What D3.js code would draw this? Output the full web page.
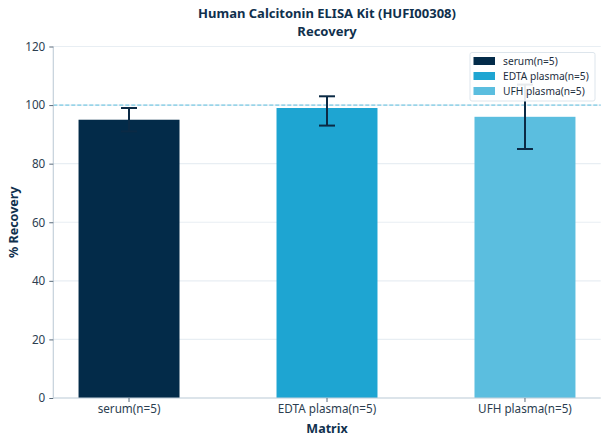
<!DOCTYPE html>
<html>
<head>
<meta charset="utf-8">
<script src="https://cdn.jsdelivr.net/npm/d3@7"></script>
<style>
  body { margin: 0; background: #fff; }
  text { font-family: "Noto Sans", "Open Sans", sans-serif; }
</style>
</head>
<body>
<svg id="chart"></svg>
<script>
// data
const categories = ["serum(n=5)", "EDTA plasma(n=5)", "UFH plasma(n=5)"];
const recovery = [95, 99, 96];
const errLow = [91, 93, 85];
const errHigh = [99, 103, 107];
const colors = ["#032b49", "#1ea5d2", "#5bbedf"];
const yTicks = [0, 20, 40, 60, 80, 100, 120];

const W = 608, H = 444;
const margin = { top: 46.5, right: 7.3, bottom: 46, left: 53.3 };
const width = W - margin.left - margin.right;
const height = H - margin.top - margin.bottom;

const svg = d3.select("#chart").attr("width", W).attr("height", H);
const g = svg.append("g")
  .attr("transform", "translate(" + margin.left + "," + margin.top + ")");

const x = d3.scaleBand().domain(categories).range([0, width])
  .paddingInner(0.49).paddingOuter(0.1275);
const y = d3.scaleLinear().domain([0, 120]).range([height, 0]);

// grid
g.selectAll(".grid").data(yTicks).enter().append("line")
  .attr("x1", 0).attr("x2", width)
  .attr("y1", d => y(d)).attr("y2", d => y(d))
  .attr("stroke", "#e8eef3").attr("stroke-width", 1.2);

// bars
g.selectAll(".bar").data(categories).enter().append("rect")
  .attr("x", d => x(d))
  .attr("y", (d, i) => y(recovery[i]))
  .attr("width", x.bandwidth())
  .attr("height", (d, i) => height - y(recovery[i]))
  .attr("fill", (d, i) => colors[i]);

// 100% reference line
g.append("line")
  .attr("x1", 0).attr("x2", width)
  .attr("y1", y(100)).attr("y2", y(100))
  .attr("stroke", "#5bbedf").attr("stroke-width", 1)
  .attr("stroke-dasharray", "4,2");

// error bars
const cap = 8;
const eb = g.selectAll(".err").data(categories).enter().append("g")
  .attr("stroke", "#0b2a45").attr("stroke-width", 2);
eb.append("line")
  .attr("x1", d => x(d) + x.bandwidth() / 2).attr("x2", d => x(d) + x.bandwidth() / 2)
  .attr("y1", (d, i) => y(errLow[i])).attr("y2", (d, i) => y(errHigh[i]));
eb.append("line")
  .attr("x1", d => x(d) + x.bandwidth() / 2 - cap).attr("x2", d => x(d) + x.bandwidth() / 2 + cap)
  .attr("y1", (d, i) => y(errLow[i])).attr("y2", (d, i) => y(errLow[i]));
eb.append("line")
  .attr("x1", d => x(d) + x.bandwidth() / 2 - cap).attr("x2", d => x(d) + x.bandwidth() / 2 + cap)
  .attr("y1", (d, i) => y(errHigh[i])).attr("y2", (d, i) => y(errHigh[i]));

// axes
const yAxis = g.append("g")
  .call(d3.axisLeft(y).tickValues(yTicks).tickSize(4).tickPadding(4));
const xAxis = g.append("g")
  .attr("transform", "translate(0," + height + ")")
  .call(d3.axisBottom(x).tickSize(4).tickPadding(3));
[yAxis, xAxis].forEach(a => {
  a.select(".domain").attr("stroke", "#c5d1db").attr("stroke-width", 1.2);
  a.selectAll(".tick line").attr("stroke", "#5a6b7b");
  a.selectAll(".tick text").attr("fill", "#2c3e50").attr("font-size", 11.7)
    .style("font-family", "'Noto Sans', sans-serif");
});
yAxis.select(".domain").attr("d", "M0," + height + "V0");
xAxis.select(".domain").attr("d", "M0,0H" + width);

// titles
const tx = margin.left + width / 2;
svg.append("text").attr("x", tx).attr("y", 18)
  .attr("text-anchor", "middle").attr("font-size", 13).attr("font-weight", "bold")
  .attr("fill", "#10304d").text("Human Calcitonin ELISA Kit (HUFI00308)");
svg.append("text").attr("x", tx).attr("y", 35.5)
  .attr("text-anchor", "middle").attr("font-size", 13).attr("font-weight", "bold")
  .attr("fill", "#10304d").text("Recovery");
svg.append("text").attr("x", tx).attr("y", 433)
  .attr("text-anchor", "middle").attr("font-size", 12.5).attr("font-weight", "bold")
  .attr("fill", "#10304d").text("Matrix");
svg.append("text")
  .attr("transform", "translate(18," + (margin.top + height / 2) + ") rotate(-90)")
  .attr("text-anchor", "middle").attr("font-size", 12.5).attr("font-weight", "bold")
  .attr("fill", "#10304d").text("% Recovery");

// legend
const lg = svg.append("g").attr("transform", "translate(470,52.5)");
lg.append("rect").attr("width", 125).attr("height", 48.5).attr("rx", 2)
  .attr("fill", "#fff").attr("fill-opacity", 0.9)
  .attr("stroke", "#dde5ec").attr("stroke-width", 1);
categories.forEach((c, i) => {
  lg.append("rect").attr("x", 3.5).attr("y", 4.5 + i * 15)
    .attr("width", 21.5).attr("height", 8).attr("fill", colors[i]);
  lg.append("text").attr("x", 33).attr("y", 12.5 + i * 15)
    .attr("font-size", 10.2).attr("fill", "#1d2e3e").text(c);
});
</script>
</body>
</html>
